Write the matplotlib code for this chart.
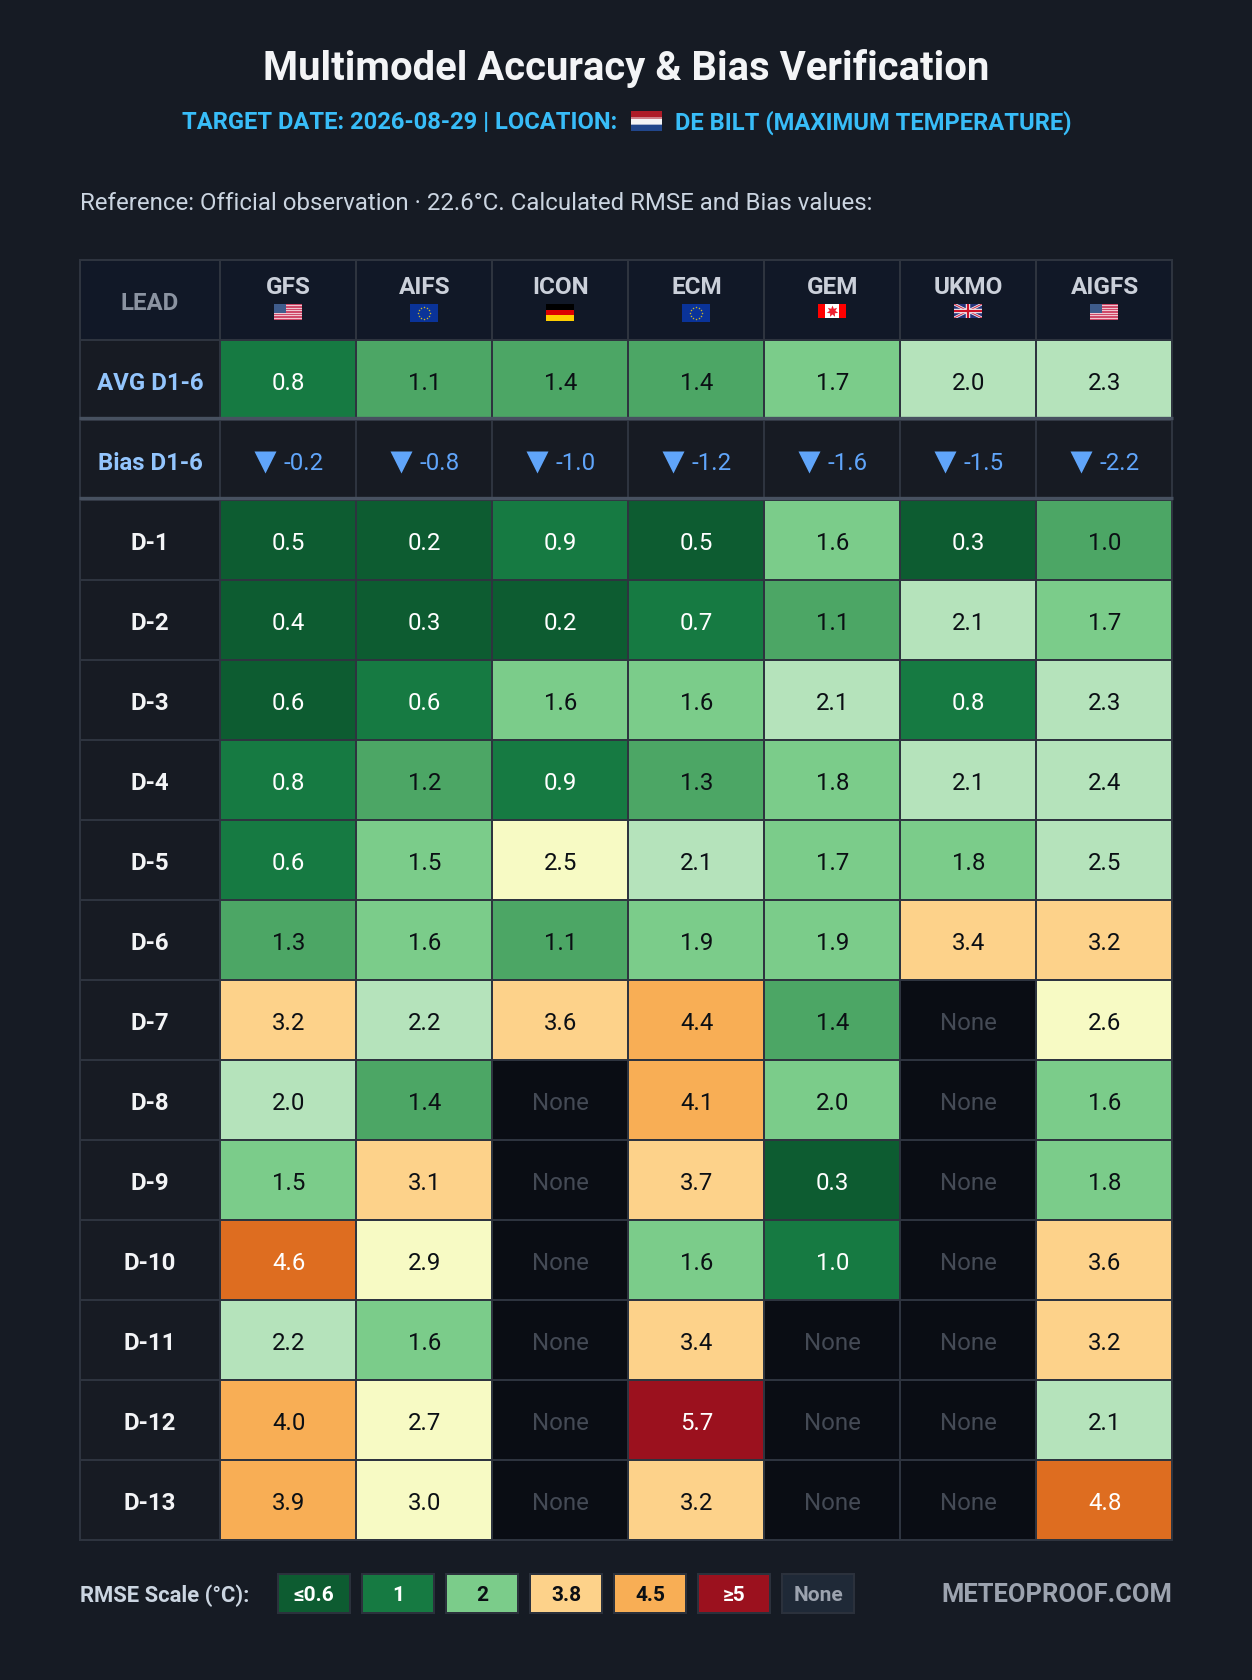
"""Multimodel RMSE / bias verification table drawn in pixel coordinates."""
import numpy as np
import matplotlib
matplotlib.use('Agg')
import matplotlib.pyplot as plt
from matplotlib.colors import BoundaryNorm, ListedColormap
from matplotlib.patches import Rectangle

plt.rcParams['font.family'] = ['Roboto', 'DejaVu Sans']

# === Data ===
MODELS = ['GFS', 'AIFS', 'ICON', 'ECM', 'GEM', 'UKMO', 'AIGFS']
FLAGS = ['us', 'eu', 'de', 'eu', 'ca', 'uk', 'us']
LEADS = ['D-1', 'D-2', 'D-3', 'D-4', 'D-5', 'D-6', 'D-7', 'D-8', 'D-9', 'D-10', 'D-11', 'D-12', 'D-13']

AVG = [0.8, 1.1, 1.4, 1.4, 1.7, 2.04, 2.3]
BIAS = [-0.2, -0.8, -1.0, -1.2, -1.6, -1.5, -2.2]

# second decimals only break ties in the colour bins, the labels show one decimal
GFS = [0.5, 0.4, 0.58, 0.8, 0.63, 1.3, 3.2, 2.04, 1.52, 4.6, 2.2, 4.0, 3.9]
AIFS = [0.2, 0.3, 0.62, 1.2, 1.52, 1.6, 2.2, 1.4, 3.1, 2.9, 1.6, 2.7, 3.0]
ICON = [0.9, 0.2, 1.6, 0.9, 2.54, 1.1, 3.6, None, None, None, None, None, None]
ECM = [0.5, 0.7, 1.6, 1.3, 2.1, 1.9, 4.4, 4.1, 3.7, 1.6, 3.4, 5.7, 3.2]
GEM = [1.6, 1.1, 2.1, 1.8, 1.7, 1.9, 1.4, 1.98, 0.3, 0.98, None, None, None]
UKMO = [0.3, 2.1, 0.8, 2.1, 1.8, 3.4, None, None, None, None, None, None, None]
AIGFS = [1.04, 1.7, 2.3, 2.4, 2.48, 3.2, 2.6, 1.6, 1.8, 3.6, 3.2, 2.1, 4.8]
RMSE = [GFS, AIFS, ICON, ECM, GEM, UKMO, AIGFS]

BIN_EDGES = [0, 0.6, 1.0, 1.5, 2.02, 2.5, 3.05, 3.8, 4.5, 5.0, 9]
BIN_COLORS = ['#0d5c31', '#167a42', '#4ca665', '#7bcc8a', '#b5e3bb',
              '#f7fac4', '#fdd28a', '#f8ae55', '#de6d20', '#9b111e']
DARK_TEXT_BINS = [2, 3, 4, 5, 6, 7]

SCALE_LABELS = ['≤0.6', '1', '2', '3.8', '4.5', '≥5', 'None']
SCALE_COLORS = ['#0d5c31', '#167a42', '#7bcc8a', '#fdd28a', '#f8ae55', '#9b111e', '#1f2937']
SCALE_TEXT = ['white', 'white', '#0b0f14', '#0b0f14', '#0b0f14', 'white', '#9ca3af']

# === Layout (px) ===
W, H = 1252, 1680
BG = '#161b24'
GRID = '#2e343f'
THICK = '#475160'
LEFT, LABEL_W, COL_W = 80, 140, 136
HEAD_TOP, HEAD_BOT, AVG_BOT, BIAS_BOT = 260, 340, 420, 500
ROW_H = 80
TXT = 17.3

cmap = ListedColormap(BIN_COLORS)
norm = BoundaryNorm(BIN_EDGES, cmap.N)

fig = plt.figure(figsize=(W / 100, H / 100), dpi=100, facecolor=BG)
ax = fig.add_axes([0, 0, 1, 1])
ax.set_xlim(0, W)
ax.set_ylim(H, 0)
ax.axis('off')


def cell(x, y, w, h, color, edge=GRID, lw=1.44, z=1):
    ax.add_patch(Rectangle((x, y), w, h, facecolor=color, edgecolor=edge, linewidth=lw, zorder=z))


def label(x, y, s, size, color, weight='normal', ha='center'):
    # y is the visual centre of the capitals
    ax.text(x, y + 0.355 * size * 100 / 72, s, fontsize=size, color=color, fontweight=weight,
            ha=ha, va='baseline', zorder=5)


def col_x(i):
    return LEFT + LABEL_W + i * COL_W


def bin_index(v):
    return int(norm(v))


def draw_flag(kind, x, y):
    w = 28
    if kind == 'us':
        h = 16
        ax.add_patch(Rectangle((x, y), w, h, fc='#f0c4cf', ec='none', zorder=3))
        for k in range(0, 13, 2):
            ax.add_patch(Rectangle((x, y + k * h / 13), w, h / 13, fc='#cf4a6a', ec='none', zorder=3))
        ax.add_patch(Rectangle((x, y), w * 0.42, h * 0.54, fc='#3f5c8c', ec='none', zorder=4))
    elif kind == 'eu':
        h = 18
        ax.add_patch(Rectangle((x, y), w, h, fc='#0a3399', ec='none', zorder=3))
        ang = np.arange(12) * np.pi / 6
        ax.plot(x + w / 2 + 6 * np.cos(ang), y + h / 2 + 6 * np.sin(ang), ls='none', marker='o',
                ms=1.1, mfc='#c9b32a', mec='none', zorder=4)
    elif kind == 'de':
        h = 17
        for k, c in enumerate(['#000000', '#dd0000', '#ffce00']):
            ax.add_patch(Rectangle((x, y + k * h / 3), w, h / 3, fc=c, ec='none', zorder=3))
    elif kind == 'ca':
        h = 14
        ax.add_patch(Rectangle((x, y), w, h, fc='#ff0000', ec='none', zorder=3))
        ax.add_patch(Rectangle((x + 7, y), 14, h, fc='#ffffff', ec='none', zorder=4))
        ax.plot([x + 14], [y + 6.5], marker=(7, 1), ms=8.5, mfc='#ee2030', mec='none', ls='none', zorder=5)
    elif kind == 'uk':
        h = 14
        clip = Rectangle((x, y), w, h, transform=ax.transData)
        ax.add_patch(Rectangle((x, y), w, h, fc='#26337a', ec='none', zorder=3))
        d1 = ([x, x + w], [y, y + h])
        d2 = ([x, x + w], [y + h, y])
        v = ([x + w / 2, x + w / 2], [y, y + h])
        hz = ([x, x + w], [y + h / 2, y + h / 2])
        for seg, lw, c in [(d1, 2.0, '#f0f0f5'), (d2, 2.0, '#f0f0f5'), (d1, 0.8, '#d0304a'), (d2, 0.8, '#d0304a'),
                           (v, 3.2, '#f0f0f5'), (hz, 3.2, '#f0f0f5'), (v, 1.6, '#cf142b'), (hz, 1.6, '#cf142b')]:
            line, = ax.plot(seg[0], seg[1], color=c, lw=lw, zorder=4, solid_capstyle='butt')
            line.set_clip_path(clip)


# --- Title block ---
label(W / 2, 66, 'Multimodel Accuracy & Bias Verification', 28.8, '#f3f4f6', 'bold')
label(617, 121, 'TARGET DATE: 2026-08-29 | LOCATION:', 17.1, '#38bdf8', 'bold', ha='right')
label(675, 121, 'DE BILT (MAXIMUM TEMPERATURE)', 17.1, '#38bdf8', 'bold', ha='left')
for k, c in enumerate(['#ae1c28', '#f4f4f6', '#21468b']):
    ax.add_patch(Rectangle((631, 111 + k * 20 / 3), 31, 20 / 3, fc=c, ec='none', zorder=3))
for yy, c in [(117.7, '#cf7f88'), (124.4, '#a9b4cf')]:
    ax.add_patch(Rectangle((631, yy - 0.8), 31, 1.6, fc=c, ec='none', zorder=4))
label(LEFT, 201, 'Reference: Official observation · 22.6°C. Calculated RMSE and Bias values:',
      17.3, '#cbd5e1', ha='left')

# --- Header row ---
cell(LEFT, HEAD_TOP, LABEL_W, HEAD_BOT - HEAD_TOP, '#111827')
label(LEFT + LABEL_W / 2, 301, 'LEAD', TXT, '#8b93a1', 'bold')
for i, (model, flag) in enumerate(zip(MODELS, FLAGS)):
    cell(col_x(i), HEAD_TOP, COL_W, HEAD_BOT - HEAD_TOP, '#111827')
    label(col_x(i) + COL_W / 2 + 0.7, 285, model, 17.5, '#cbd0da', 'bold')
    draw_flag(flag, col_x(i) + COL_W / 2 - 14, 304)

# --- Summary rows ---
cell(LEFT, HEAD_BOT, LABEL_W, AVG_BOT - HEAD_BOT, '#171b23')
label(LEFT + LABEL_W / 2, 381, 'AVG D1-6', TXT, '#93c5fd', 'bold')
cell(LEFT, AVG_BOT, LABEL_W, BIAS_BOT - AVG_BOT, '#171b23')
label(LEFT + LABEL_W / 2, 461, 'Bias D1-6', TXT, '#93c5fd', 'bold')
for i in range(len(MODELS)):
    b = bin_index(AVG[i])
    cell(col_x(i), HEAD_BOT, COL_W, AVG_BOT - HEAD_BOT, BIN_COLORS[b])
    label(col_x(i) + COL_W / 2 + 0.7, 381, f'{AVG[i]:.1f}', TXT, '#0b0f14' if b in DARK_TEXT_BINS else 'white')
    cell(col_x(i), AVG_BOT, COL_W, BIAS_BOT - AVG_BOT, '#171b23')
    ax.plot([col_x(i) + 45], [461.5], marker='v', ms=16, mfc='#60a5fa', mec='none', ls='none', zorder=5)
    label(col_x(i) + 63, 461, f'{BIAS[i]:.1f}', TXT, '#60a5fa', ha='left')

# --- Lead rows ---
for r, lead in enumerate(LEADS):
    y = BIAS_BOT + r * ROW_H
    cell(LEFT, y, LABEL_W, ROW_H, '#171b23')
    label(LEFT + LABEL_W / 2, y + 41, lead, TXT, '#f3f4f6', 'bold')
    for i in range(len(MODELS)):
        v = RMSE[i][r]
        if v is None:
            cell(col_x(i), y, COL_W, ROW_H, '#0a0d14')
            label(col_x(i) + COL_W / 2, y + 41, 'None', TXT, '#444a55')
        else:
            b = bin_index(v)
            cell(col_x(i), y, COL_W, ROW_H, BIN_COLORS[b])
            label(col_x(i) + COL_W / 2 + 0.7, y + 41, f'{v:.1f}', TXT, '#0b0f14' if b in DARK_TEXT_BINS else 'white')

# --- Heavier rules under the summary rows ---
for yy in (AVG_BOT - 2.3, BIAS_BOT - 2.3):
    ax.plot([LEFT - 1, col_x(7) + 1], [yy, yy], color=THICK, lw=2.4, zorder=4, solid_capstyle='butt')

# --- Legend ---
label(LEFT, 1594, 'RMSE Scale (°C):', 15.8, '#cbd5e1', 'bold', ha='left')
for k, (txt, fc, tc) in enumerate(zip(SCALE_LABELS, SCALE_COLORS, SCALE_TEXT)):
    x = 278.3 + k * 84
    cell(x, 1574.3, 72, 39, fc, edge='#2b313c', lw=1.44)
    label(x + 36, 1594, txt, 15, tc, 'bold')
label(1172, 1593, 'METEOPROOF.COM', 18.4, '#9ca3af', 'bold', ha='right')

fig.savefig('out.png', dpi=100, facecolor=BG)
